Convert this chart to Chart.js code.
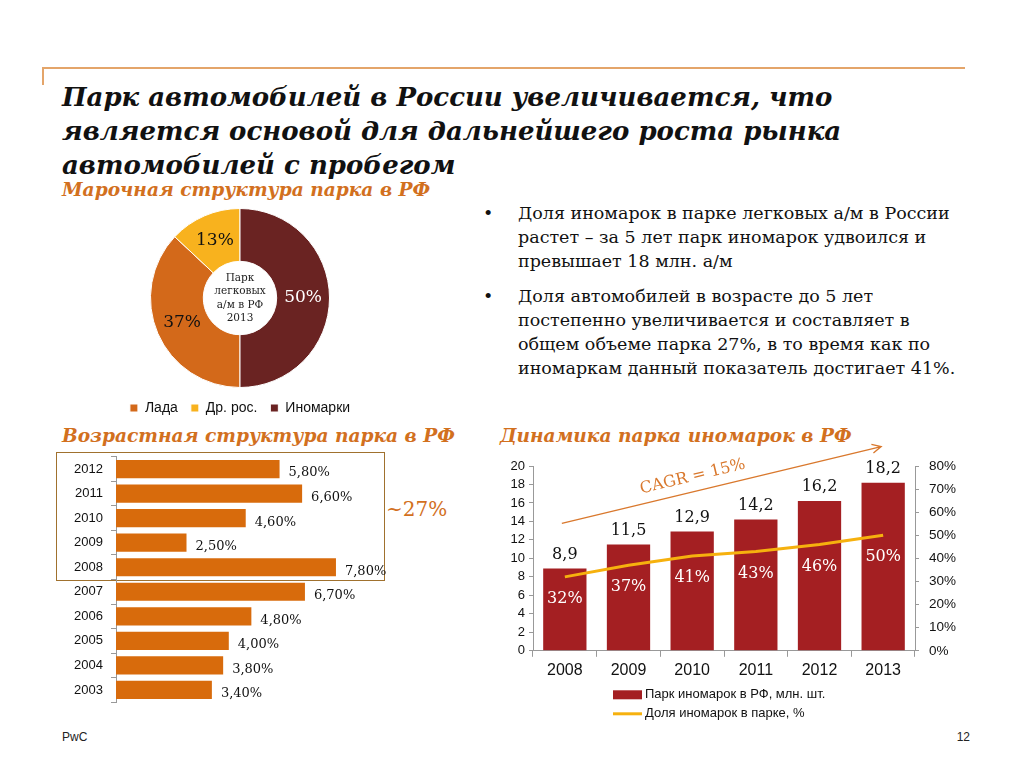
<!DOCTYPE html>
<html>
<head>
<meta charset="utf-8">
<script src="https://cdn.jsdelivr.net/npm/chart.js@4/dist/chart.umd.min.js"></script>
<style>
  body { margin:0; width:1024px; height:768px; background:#fff; position:relative; overflow:hidden; font-family:"Liberation Sans", Arial, sans-serif; }
  .abs { position:absolute; white-space:nowrap; }
  .serif { font-family:"DejaVu Serif", Georgia, serif; }
  .title { left:62px; top:80px; font-size:26px; line-height:34px; font-weight:bold; font-style:italic; color:#111; }
  .sub { font-size:18.6px; line-height:20px; font-weight:bold; font-style:italic; color:#D2701E; }
  .bul { left:483px; font-size:17.5px; line-height:24px; color:#111; }
  .bul span { position:absolute; left:0; }
  .bul div { margin-left:35px; }
  canvas { position:absolute; }
</style>
</head>
<body>
<div class="abs" style="left:42px;top:67px;width:923px;height:0;border-top:2px solid #E4A56A"></div>
<div class="abs" style="left:42px;top:67px;width:0;height:18px;border-left:2px solid #E4A56A"></div>

<div class="abs serif title">Парк автомобилей в России увеличивается, что<br>является основой для дальнейшего роста рынка<br>автомобилей с пробегом</div>
<div class="abs serif sub" style="left:62px;top:180px">Марочная структура парка в РФ</div>
<div class="abs serif sub" style="left:62px;top:426px">Возрастная структура парка в РФ</div>
<div class="abs serif sub" style="left:500px;top:426px">Динамика парка иномарок в РФ</div>

<div class="abs serif bul" style="top:201px"><span>•</span><div>Доля иномарок в парке легковых а/м в России<br>растет – за 5 лет парк иномарок удвоился и<br>превышает 18 млн. а/м</div></div>
<div class="abs serif bul" style="top:284px"><span>•</span><div>Доля автомобилей в возрасте до 5 лет<br>постепенно увеличивается и составляет в<br>общем объеме парка 27%, в то время как по<br>иномаркам данный показатель достигает 41%.</div></div>

<div class="abs" style="left:56px;top:452px;width:327px;height:127px;border:1px solid #A0712E"></div>
<div class="abs serif" style="left:386px;top:497px;font-size:20px;line-height:24px;color:#D2701E">~27%</div>

<div class="abs" style="left:62px;top:729px;font-size:12px;line-height:16px;color:#222">PwC</div>
<div class="abs" style="left:950px;top:729px;width:20px;text-align:right;font-size:12px;line-height:16px;color:#222">12</div>

<canvas id="brandChart" width="260" height="220" style="left:110px;top:205px"></canvas>
<canvas id="ageChart" width="360" height="277" style="left:56px;top:441px"></canvas>
<canvas id="fleetChart" width="490" height="295" style="left:490px;top:436px"></canvas>

<script>
var brandLabels = ['Лада', 'Др. рос.', 'Иномарки'];
var brandShares = [37, 13, 50];
var brandColors = ['#D3691A', '#F8B21E', '#6A2322'];
var brandCenterText = ['Парк', 'легковых', 'а/м в РФ', '2013'];

var ageYears = ['2012', '2011', '2010', '2009', '2008', '2007', '2006', '2005', '2004', '2003'];
var ageShares = [5.8, 6.6, 4.6, 2.5, 7.8, 6.7, 4.8, 4.0, 3.8, 3.4];

var fleetYears = ['2008', '2009', '2010', '2011', '2012', '2013'];
var foreignFleet = [8.9, 11.5, 12.9, 14.2, 16.2, 18.2];
var foreignShare = [32, 37, 41, 43, 46, 50];

var serif = '"DejaVu Serif", Georgia, serif';
var sans = '"Liberation Sans", Arial, sans-serif';

function comma(v, d){
    return v.toFixed(d).replace('.', ',');
}

// doughnut
var brandLabelsPlugin = {
    id: 'brandLabels',
    afterDatasetsDraw(chart){
        var ctx = chart.ctx;
        var arcs = chart.getDatasetMeta(0).data;
        ctx.save();
        ctx.textAlign = 'center';
        ctx.textBaseline = 'middle';
        ctx.font = '17px ' + serif;
        arcs.forEach(function(arc, i){
            var p = arc.tooltipPosition();
            ctx.fillStyle = i === 2 ? '#fff' : '#111';
            ctx.fillText(brandShares[i] + '%', p.x, p.y);
        });
        ctx.font = '10.5px ' + serif;
        ctx.fillStyle = '#222';
        var cx = arcs[0].x, cy = arcs[0].y;
        brandCenterText.forEach(function(t, i){
            ctx.fillText(t, cx, cy - 20 + i * 13.5);
        });
        ctx.restore();
    }
};

new Chart(document.getElementById('brandChart'), {
    type: 'doughnut',
    data: {
        labels: brandLabels,
        datasets: [{
            data: brandShares,
            backgroundColor: brandColors,
            borderColor: '#fff',
            borderWidth: 1
        }]
    },
    options: {
        responsive: false,
        animation: false,
        rotation: 180,
        cutout: '41%',
        layout: { padding: { top: 3 } },
        plugins: {
            tooltip: { enabled: false },
            legend: {
                position: 'bottom',
                labels: { boxWidth: 8, boxHeight: 8, padding: 13, color: '#111', font: { family: sans, size: 14 } }
            }
        }
    },
    plugins: [brandLabelsPlugin]
});

// horizontal bars
var ageLabelsPlugin = {
    id: 'ageLabels',
    afterDatasetsDraw(chart){
        var ctx = chart.ctx;
        ctx.save();
        ctx.font = '13px ' + serif;
        ctx.fillStyle = '#111';
        ctx.textBaseline = 'middle';
        chart.getDatasetMeta(0).data.forEach(function(bar, i){
            ctx.fillText(comma(ageShares[i], 2) + '%', bar.x + 9, bar.y + 4);
        });
        ctx.restore();
    }
};

new Chart(document.getElementById('ageChart'), {
    type: 'bar',
    data: {
        labels: ageYears,
        datasets: [{
            data: ageShares,
            backgroundColor: '#D86B0C',
            barPercentage: 0.74,
            categoryPercentage: 1
        }]
    },
    options: {
        indexAxis: 'y',
        responsive: false,
        animation: false,
        layout: { padding: { right: 18 } },
        plugins: { legend: { display: false }, tooltip: { enabled: false } },
        scales: {
            x: { display: false, min: 0, max: 10 },
            y: {
                afterFit: function(s){ s.width = 60; },
                grid: { drawOnChartArea: false, tickLength: 5, color: '#999' },
                border: { color: '#999' },
                ticks: { color: '#111', font: { family: sans, size: 13 }, padding: 8 }
            }
        }
    },
    plugins: [ageLabelsPlugin]
});

// bar + line
var fleetPlugin = {
    id: 'fleetExtras',
    afterDatasetsDraw(chart){
        var ctx = chart.ctx;
        var bars = chart.getDatasetMeta(0).data;
        var pts = chart.getDatasetMeta(1).data;
        ctx.save();
        ctx.textAlign = 'center';
        ctx.textBaseline = 'middle';
        ctx.font = '16px ' + serif;
        bars.forEach(function(bar, i){
            ctx.fillStyle = '#111';
            ctx.fillText(comma(foreignFleet[i], 1), bar.x, bar.y - 14);
            ctx.fillStyle = '#fff';
            ctx.fillText(foreignShare[i] + '%', pts[i].x, pts[i].y + 22);
        });

        // CAGR arrow
        var xs = chart.scales.x, ys = chart.scales.y;
        var x0 = xs.getPixelForValue(0) - 3, y0 = ys.getPixelForValue(13.8);
        var x1 = xs.getPixelForValue(5) - 2, y1 = ys.getPixelForValue(22.1);
        var ang = Math.atan2(y1 - y0, x1 - x0);
        ctx.strokeStyle = '#D9782D';
        ctx.lineWidth = 1.3;
        ctx.beginPath();
        ctx.moveTo(x0, y0);
        ctx.lineTo(x1, y1);
        ctx.moveTo(x1 - 10 * Math.cos(ang - 0.45), y1 - 10 * Math.sin(ang - 0.45));
        ctx.lineTo(x1, y1);
        ctx.lineTo(x1 - 10 * Math.cos(ang + 0.45), y1 - 10 * Math.sin(ang + 0.45));
        ctx.stroke();
        ctx.translate(x0 + (x1 - x0) * 0.41, y0 + (y1 - y0) * 0.41 - 15);
        ctx.rotate(ang);
        ctx.fillStyle = '#D9782D';
        ctx.font = '16px ' + serif;
        ctx.fillText('CAGR = 15%', 0, 0);
        ctx.restore();
    },
    afterDraw(chart){
        var ctx = chart.ctx;
        var left = chart.chartArea.left + 80;
        var top = chart.chartArea.bottom + 44;
        ctx.save();
        ctx.font = '13px ' + sans;
        ctx.textBaseline = 'middle';
        chart.data.datasets.forEach(function(ds, i){
            var y = top + i * 19;
            if (ds.type === 'bar') {
                ctx.fillStyle = ds.backgroundColor;
                ctx.fillRect(left, y - 4.5, 29, 9);
            } else {
                ctx.strokeStyle = ds.borderColor;
                ctx.lineWidth = 3;
                ctx.beginPath();
                ctx.moveTo(left, y);
                ctx.lineTo(left + 29, y);
                ctx.stroke();
            }
            ctx.fillStyle = '#111';
            ctx.fillText(ds.label, left + 32, y);
        });
        ctx.restore();
    }
};

new Chart(document.getElementById('fleetChart'), {
    data: {
        labels: fleetYears,
        datasets: [{
            type: 'bar',
            label: 'Парк иномарок в РФ, млн. шт.',
            data: foreignFleet,
            yAxisID: 'y',
            backgroundColor: '#A41F22',
            barPercentage: 0.68,
            categoryPercentage: 1,
            order: 2
        }, {
            type: 'line',
            label: 'Доля иномарок в парке, %',
            data: foreignShare,
            yAxisID: 'y1',
            borderColor: '#F6B10E',
            borderWidth: 3,
            pointRadius: 0,
            order: 1
        }]
    },
    options: {
        responsive: false,
        animation: false,
        layout: { padding: { top: 30, bottom: 47 } },
        plugins: { legend: { display: false }, tooltip: { enabled: false } },
        scales: {
            x: {
                grid: { offset: true, drawOnChartArea: false, tickLength: 6, color: '#999' },
                border: { color: '#999' },
                ticks: { color: '#111', font: { family: sans, size: 16 }, padding: 4 }
            },
            y: {
                position: 'left',
                min: 0, max: 20,
                afterFit: function(s){ s.width = 43; },
                grid: { drawOnChartArea: false, tickLength: 4, color: '#999' },
                border: { color: '#999' },
                ticks: { stepSize: 2, autoSkip: false, color: '#111', font: { family: sans, size: 13 }, padding: 4 }
            },
            y1: {
                position: 'right',
                min: 0, max: 80,
                afterFit: function(s){ s.width = 65; },
                grid: { drawOnChartArea: false, tickLength: 4, color: '#999' },
                border: { color: '#999' },
                ticks: { stepSize: 10, autoSkip: false, color: '#111', font: { family: sans, size: 13.5 }, padding: 10, callback: function(v){ return v + '%'; } }
            }
        }
    },
    plugins: [fleetPlugin]
});
</script>
</body>
</html>
